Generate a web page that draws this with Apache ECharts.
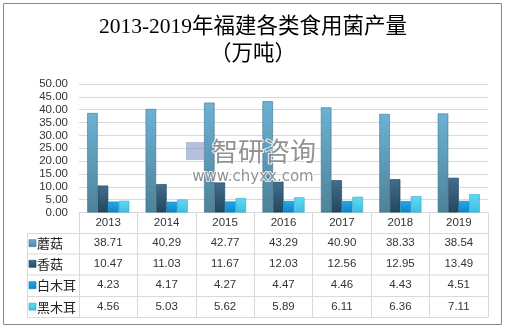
<!DOCTYPE html>
<html><head><meta charset="utf-8">
<script src="https://cdn.jsdelivr.net/npm/echarts@6/dist/echarts.min.js"></script>
<style>html,body{margin:0;padding:0;background:#fff;}#c{width:506px;height:328px;}</style>
</head><body><div id="c"></div>
<script>
var years = ['2013','2014','2015','2016','2017','2018','2019'];
var seriesNames = ['蘑菇','香菇','白木耳','黑木耳'];
var mogu = [38.71,40.29,42.77,43.29,40.90,38.33,38.54];
var xianggu = [10.47,11.03,11.67,12.03,12.56,12.95,13.49];
var baimuer = [4.23,4.17,4.27,4.47,4.46,4.43,4.51];
var heimuer = [4.56,5.03,5.62,5.89,6.11,6.36,7.11];
var yTicks = {min:0, max:50, interval:5};

var allData = [mogu, xianggu, baimuer, heimuer];
var colors = [
  ['#6cb2d4','#4d8299','#3f7590'],
  ['#416f8f','#22475f','#1f4058'],
  ['#22aaeb','#0c85c6','#0b78b4'],
  ['#62d8f4','#3cbfe2','#2aa9cc']
];
var rowCenters = [243.2, 263.8, 285.2, 306.6];
var lineYs = [233, 253.5, 274.5, 296, 317];
var font = "'Liberation Sans','Noto Sans CJK SC',sans-serif";

var chart = echarts.init(document.getElementById('c'), null, {renderer:'canvas'});

var xAxes = [{
  type:'category', data: years, position:'bottom',
  axisLine:{lineStyle:{color:'#d9d9d9'}},
  axisTick:{show:true, length:105, lineStyle:{color:'#d9d9d9'}},
  axisLabel:{color:'#333', fontSize:11.5, fontFamily:font, margin:10, verticalAlign:'middle'}
}];
allData.forEach(function(arr, i){
  xAxes.push({
    type:'category', data: years, position:'bottom', offset: rowCenters[i]-212.5,
    axisLine:{show:false}, axisTick:{show:false},
    axisLabel:{color:'#333', fontSize:11.5, fontFamily:font, margin:0, verticalAlign:'middle',
      formatter:(function(a){return function(v, idx){return a[idx].toFixed(2);};})(arr)}
  });
});

var series = allData.map(function(arr, i){
  return {
    name: seriesNames[i], type:'bar', data: arr, xAxisIndex:0,
    barGap:'0%', barCategoryGap:'28%',
    itemStyle:{
      color: new echarts.graphic.LinearGradient(0,0,0,1,[{offset:0,color:colors[i][0]},{offset:1,color:colors[i][1]}]),
      borderColor: colors[i][2], borderWidth:0.6
    }
  };
});

var graphics = [
  {type:'rect', shape:{x:3.5,y:3.5,width:498,height:321}, style:{fill:null, stroke:'#868686', lineWidth:1}, silent:true},
  {type:'line', shape:{x1:27.5,y1:233,x2:27.5,y2:317.5}, style:{stroke:'#d9d9d9', lineWidth:1}, silent:true}
];
lineYs.forEach(function(y){
  graphics.push({type:'line', shape:{x1:27.5,y1:y+0.5,x2:488,y2:y+0.5}, style:{stroke:'#d9d9d9', lineWidth:1}, silent:true});
});
seriesNames.forEach(function(n, i){
  graphics.push({type:'rect', shape:{x:29,y:rowCenters[i]-3.5,width:7,height:7},
    style:{fill:new echarts.graphic.LinearGradient(0,0,0,1,[{offset:0,color:colors[i][0]},{offset:1,color:colors[i][1]}]), stroke:colors[i][2], lineWidth:0.6}, silent:true});
  graphics.push({type:'text', x:37, y:rowCenters[i],
    style:{text:n, font:"13px 'Noto Sans CJK SC',sans-serif", fill:'#222', verticalAlign:'middle', align:'left'}, silent:true});
});
// watermark
graphics.push({type:'text', x:212, y:151, z:100,
  style:{text:'智研咨询', font:"26px 'Noto Sans CJK SC',sans-serif", fill:'rgba(110,110,110,0.75)', stroke:'rgba(255,255,255,0.8)', lineWidth:2, verticalAlign:'middle', align:'left'}, silent:true});
graphics.push({type:'text', x:253, y:177, z:100,
  style:{text:'www.chyxx.com', font:"15px 'DejaVu Sans',sans-serif", fill:'rgba(110,110,110,0.75)', stroke:'rgba(255,255,255,0.8)', lineWidth:2, verticalAlign:'middle', align:'center'}, silent:true});
graphics.push({type:'rect', z:100, shape:{x:186,y:142,width:20,height:18}, style:{fill:'rgba(120,140,190,0.55)'}, silent:true});

chart.setOption({
  animation:false,
  backgroundColor:'#fff',
  title:{
    text:'2013-2019年福建各类食用菌产量\n（万吨）',
    left:'center', top:14, padding:0,
    textStyle:{fontFamily:"'Liberation Serif','Noto Sans CJK SC',serif", fontSize:21.5, fontWeight:'normal', color:'#000', lineHeight:27}
  },
  grid:{left:79, right:18, top:84, bottom:115.5, containLabel:false},
  xAxis: xAxes,
  yAxis:{
    type:'value', min:yTicks.min, max:yTicks.max, interval:yTicks.interval,
    axisLine:{show:false}, axisTick:{show:false},
    splitLine:{lineStyle:{color:'#d9d9d9'}},
    axisLabel:{color:'#333', fontSize:11.5, fontFamily:font, margin:11, formatter:function(v){return v.toFixed(2);}}
  },
  series: series,
  graphic: graphics
});
</script>
</body></html>
